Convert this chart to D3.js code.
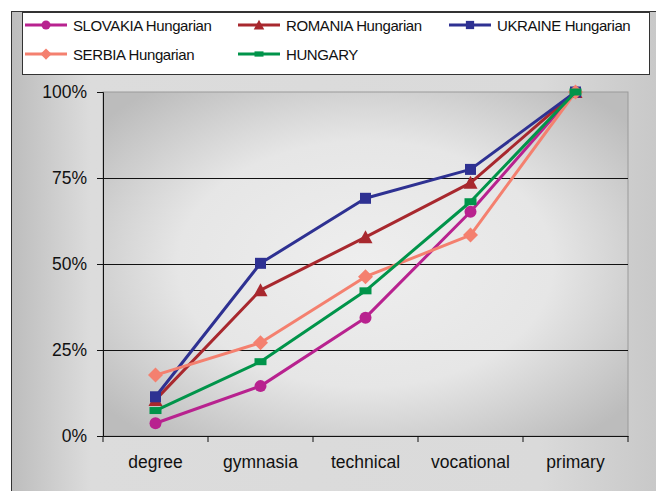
<!DOCTYPE html>
<html><head><meta charset="utf-8">
<script src="https://cdn.jsdelivr.net/npm/d3@7"></script>
<style>body{margin:0;background:#fff}svg{display:block}text{font-family:"Liberation Sans",Arial,sans-serif}</style>
</head><body><svg id="c" width="656" height="491"></svg>
<script>
const categories = ["degree","gymnasia","technical","vocational","primary"];
const seriesNames = ["SLOVAKIA Hungarian","ROMANIA Hungarian","UKRAINE Hungarian","SERBIA Hungarian","HUNGARY"];
const slovakia = [3.7, 14.5, 34.4, 65.2, 100];
const romania  = [10.5, 42.4, 57.8, 73.6, 100];
const ukraine  = [11.4, 50.2, 69.1, 77.5, 100];
const serbia   = [17.7, 27.1, 46.3, 58.4, 100];
const hungary  = [7.4, 21.6, 42.2, 68.1, 100];
const yTicks = [0, 25, 50, 75, 100];
const yTickLabels = ["0%","25%","50%","75%","100%"];

const colors = ["#b8228f","#a8282e","#2e3192","#f4806f","#00944a"];
const shapes = ["circle","triangle","square","diamond","rect"];
const values = [slovakia, romania, ukraine, serbia, hungary];

const svg = d3.select("#c");
const defs = svg.append("defs");
const og = defs.append("linearGradient").attr("id","og").attr("x1","0").attr("x2","1").attr("y1","0").attr("y2","0");
[["0%","#bdbdbd"],["12%","#dcdcdc"],["80%","#dadada"],["100%","#c6c6c6"]].forEach(s=>og.append("stop").attr("offset",s[0]).attr("stop-color",s[1]));
const pg = defs.append("radialGradient").attr("id","pg").attr("cx","50%").attr("cy","50%").attr("r","65%");
[["0%","#eeeeee"],["55%","#e6e6e6"],["100%","#bcbcbc"]].forEach(s=>pg.append("stop").attr("offset",s[0]).attr("stop-color",s[1]));

svg.append("rect").attr("x",11.5).attr("y",11.5).attr("width",660).attr("height",490)
  .attr("fill","url(#og)").attr("stroke","#333").attr("stroke-width",1);

const L = 103, R = 628, T = 92, B = 436;
const x = d3.scaleBand().domain(categories).range([L, R]);
const y = d3.scaleLinear().domain([0,100]).range([B, T]);

svg.append("rect").attr("x",L).attr("y",T).attr("width",R-L).attr("height",B-T)
  .attr("fill","url(#pg)").attr("stroke","#9a9a9a").attr("stroke-width",1);

// gridlines
svg.append("g").selectAll("line").data(yTicks.filter(v=>v>0 && v<100)).join("line")
  .attr("x1",L).attr("x2",R).attr("y1",d=>Math.round(y(d))+0.5).attr("y2",d=>Math.round(y(d))+0.5)
  .attr("stroke","#111").attr("stroke-width",1);

// y axis
const yAxis = d3.axisLeft(y).tickValues(yTicks).tickFormat((d,i)=>yTickLabels[i]).tickSize(6).tickPadding(10);
const gy = svg.append("g").attr("transform",`translate(${L},0)`).call(yAxis);
gy.select(".domain").attr("stroke","#111");
gy.selectAll(".tick line").attr("stroke","#111");
gy.selectAll("text").attr("font-size",17.5).attr("fill","#111").attr("font-family","Liberation Sans, Arial, sans-serif");

// x axis
const xAxis = d3.axisBottom(x).tickSize(0).tickPadding(20);
const gx = svg.append("g").attr("transform",`translate(0,${B})`).call(xAxis);
gx.select(".domain").attr("stroke","#111");
gx.selectAll("text").attr("font-size",17.5).attr("fill","#111").attr("font-family","Liberation Sans, Arial, sans-serif");
const bounds = categories.map(c=>x(c)).concat([R]);
svg.append("g").selectAll("line").data(bounds).join("line")
  .attr("x1",d=>d).attr("x2",d=>d).attr("y1",B).attr("y2",B+6).attr("stroke","#111");

function marker(g, shape, cx, cy, color, s) {
  s = s || 1;
  if (shape==="circle") g.append("circle").attr("cx",cx).attr("cy",cy).attr("r",6*s).attr("fill",color);
  else if (shape==="triangle") g.append("path").attr("d",`M${cx},${cy-7*s}L${cx+7*s},${cy+6*s}L${cx-7*s},${cy+6*s}Z`).attr("fill",color);
  else if (shape==="square") g.append("rect").attr("x",cx-5.5*s).attr("y",cy-5.5*s).attr("width",11*s).attr("height",11*s).attr("fill",color);
  else if (shape==="diamond") g.append("path").attr("d",`M${cx},${cy-7.5*s}L${cx+7.5*s},${cy}L${cx},${cy+7.5*s}L${cx-7.5*s},${cy}Z`).attr("fill",color);
  else if (shape==="rect") g.append("rect").attr("x",cx-6*s).attr("y",cy-3.5*s).attr("width",12*s).attr("height",7*s).attr("fill",color);
}

const line = d3.line().x((d,i)=>x(categories[i])+x.bandwidth()/2).y(d=>y(d));
values.forEach((vals,k)=>{
  const g = svg.append("g");
  g.append("path").attr("d",line(vals)).attr("fill","none").attr("stroke",colors[k]).attr("stroke-width",3).attr("stroke-linejoin","round");
  vals.forEach((v,i)=>marker(g, shapes[k], x(categories[i])+x.bandwidth()/2, y(v), colors[k]));
});

// legend
svg.append("rect").attr("x",22.5).attr("y",12.5).attr("width",627).attr("height",62)
  .attr("fill","#fff").attr("stroke","#333").attr("stroke-width",1);
const legPos = [[25,25],[238,25],[449,25],[25,54],[238,54]];
seriesNames.forEach((n,k)=>{
  const [lx,ly] = legPos[k];
  const g = svg.append("g");
  g.append("line").attr("x1",lx).attr("x2",lx+42).attr("y1",ly).attr("y2",ly).attr("stroke",colors[k]).attr("stroke-width",3);
  marker(g, shapes[k], lx+21, ly, colors[k], 0.75);
  g.append("text").attr("x",lx+48).attr("y",ly+5.5).attr("font-size",15).attr("fill","#111").attr("letter-spacing","-0.4").text(n);
});
</script></body></html>
